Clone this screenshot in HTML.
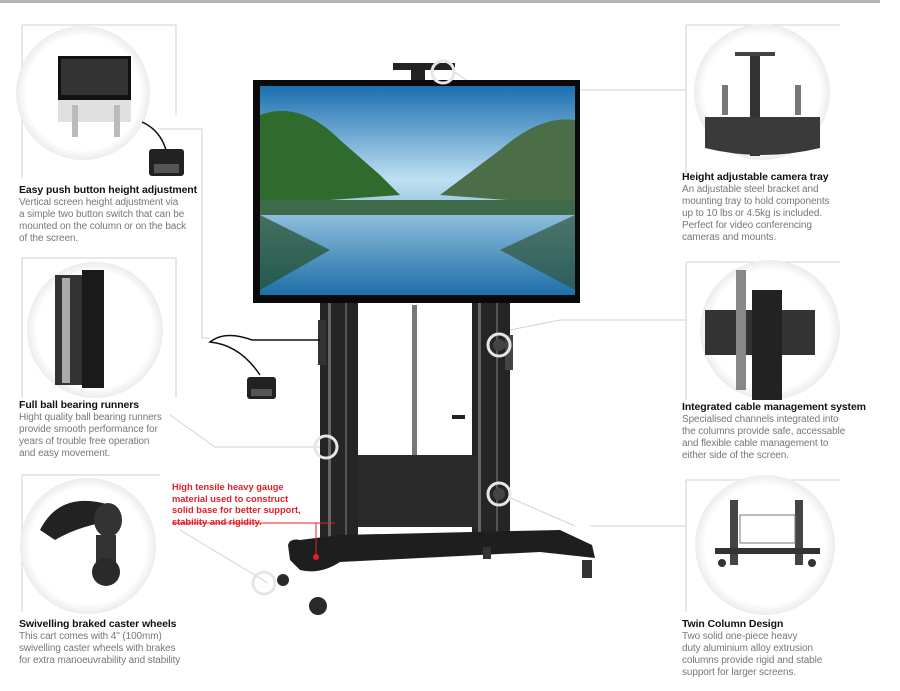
<!DOCTYPE html>
<html><head><meta charset="utf-8"><style>
body{margin:0;width:900px;height:691px;background:#fff;overflow:hidden;position:relative;font-family:"Liberation Sans",sans-serif}
.t{position:absolute;font-size:10px;line-height:12px;color:#777;letter-spacing:-0.1px}
.t b{display:block;color:#111;font-size:10.5px;margin-bottom:1px}
.r{position:absolute;left:172px;top:482px;color:#e0202a;font-weight:bold;font-size:9.3px;line-height:11.5px}
</style></head><body>
<svg width="900" height="691" style="position:absolute;left:0;top:0">
<defs>
<linearGradient id="sky" x1="0" y1="0" x2="0" y2="1"><stop offset="0" stop-color="#1a6fb0"/><stop offset="0.45" stop-color="#bfe0f2"/><stop offset="1" stop-color="#1d6fa8"/></linearGradient>
<radialGradient id="cg"><stop offset="0.85" stop-color="#fff"/><stop offset="1" stop-color="#ececec"/></radialGradient>
</defs>
<rect x="0" y="0" width="880" height="3" fill="#b5b5b5"/>
<g stroke="#d2d2d2" fill="none" stroke-width="1">
<path d="M22 25 V178 M22 25 H176 V115"/>
<path d="M158 129 H202 V338 H210"/>
<path d="M22 258 H176 V398 M22 258 V398"/>
<path d="M22 475 H160 M22 475 V612"/>
<path d="M686 25 V175 M686 25 H840 M686 90 H590"/>
<path d="M686 262 H840 M686 262 V400 M686 320 H560"/>
<path d="M686 480 H840 M686 480 V612 M686 526 H590"/>
<path d="M170 415 L215 447 H320 M455 72 L480 90 H590 M510 330 L560 320 M508 497 L575 526 M180 530 L268 583"/>
</g>
<circle cx="83" cy="93" r="67" fill="url(#cg)"/>
<circle cx="95" cy="330" r="68" fill="url(#cg)"/>
<circle cx="88" cy="546" r="68" fill="url(#cg)"/>
<circle cx="762" cy="92" r="68" fill="url(#cg)"/>
<circle cx="770" cy="330" r="70" fill="url(#cg)"/>
<circle cx="765" cy="545" r="70" fill="url(#cg)"/>
<rect x="58" y="56" width="73" height="44" fill="#111"/><rect x="61" y="59" width="67" height="36" fill="#333"/>
<rect x="58" y="100" width="73" height="22" fill="#ccc" opacity=".6"/>
<rect x="72" y="105" width="6" height="32" fill="#bbb"/><rect x="114" y="105" width="6" height="32" fill="#bbb"/>
<path d="M142 122 Q160 130 166 150" stroke="#111" stroke-width="1.5" fill="none"/>
<rect x="149" y="149" width="35" height="27" rx="3" fill="#222"/><rect x="154" y="164" width="25" height="9" fill="#555"/>
<rect x="55" y="275" width="48" height="110" fill="#333"/><rect x="62" y="278" width="8" height="105" fill="#aaa"/><rect x="82" y="270" width="22" height="118" fill="#1a1a1a"/>
<path d="M40 530 Q60 490 110 505 L118 520 Q80 525 55 540 Z" fill="#222"/>
<ellipse cx="108" cy="520" rx="14" ry="17" fill="#333"/>
<rect x="96" y="535" width="20" height="30" fill="#333"/><circle cx="106" cy="572" r="14" fill="#2a2a2a"/>
<rect x="735" y="52" width="40" height="4" fill="#444"/><rect x="750" y="56" width="10" height="100" fill="#333"/>
<rect x="722" y="85" width="6" height="30" fill="#777"/><rect x="795" y="85" width="6" height="30" fill="#777"/>
<path d="M705 117 H820 V148 Q762 162 705 148Z" fill="#3a3a3a"/>
<rect x="705" y="310" width="110" height="45" fill="#333"/><rect x="752" y="290" width="30" height="110" fill="#222"/><rect x="736" y="270" width="10" height="120" fill="#888"/>
<rect x="730" y="500" width="8" height="65" fill="#444"/><rect x="795" y="500" width="8" height="65" fill="#444"/>
<rect x="740" y="515" width="55" height="28" fill="none" stroke="#777"/><rect x="715" y="548" width="105" height="6" fill="#333"/>
<circle cx="722" cy="563" r="4" fill="#333"/><circle cx="812" cy="563" r="4" fill="#333"/>
<rect x="393" y="63" width="62" height="7" fill="#222"/><rect x="411" y="70" width="14" height="16" fill="#222"/>
<rect x="253" y="80" width="327" height="223" fill="#0a0a0a"/>
<rect x="260" y="86" width="315" height="209" fill="url(#sky)"/>
<path d="M260 115 Q300 100 340 140 L380 175 L400 195 L260 205Z" fill="#2f6b2c"/>
<path d="M440 195 L500 150 Q540 115 575 120 V205Z" fill="#4b6e48"/>
<path d="M260 200 H575 V215 H260Z" fill="#3e6a49"/>
<path d="M260 215 L330 250 L260 290Z" fill="#254f2a" opacity=".7"/>
<path d="M575 215 L500 250 L575 290Z" fill="#30553a" opacity=".7"/>
<rect x="320" y="303" width="38" height="247" fill="#252525"/><rect x="328" y="303" width="3" height="247" fill="#666"/><rect x="345" y="303" width="2" height="247" fill="#555"/>
<rect x="472" y="303" width="38" height="240" fill="#252525"/><rect x="478" y="303" width="3" height="240" fill="#666"/><rect x="496" y="303" width="2" height="240" fill="#555"/>
<rect x="412" y="305" width="5" height="160" fill="#777"/>
<rect x="452" y="415" width="13" height="4" fill="#222"/>
<rect x="358" y="455" width="120" height="72" fill="#2a2a2a"/>
<path d="M288 545 Q290 538 300 540 L340 535 L560 530 L592 545 L595 558 L540 552 L340 562 Q320 575 300 570 L290 560Z" fill="#1e1e1e"/>
<rect x="318" y="320" width="8" height="45" fill="#333"/><rect x="505" y="335" width="8" height="35" fill="#444"/>
<circle cx="283" cy="580" r="6" fill="#2a2a2a"/><circle cx="318" cy="606" r="9" fill="#2a2a2a"/>
<rect x="483" y="547" width="8" height="12" fill="#333"/><rect x="582" y="560" width="10" height="18" fill="#333"/>
<g fill="none" stroke="#e6e6e6" stroke-width="3">
<circle cx="326" cy="447" r="11"/><circle cx="499" cy="345" r="11"/><circle cx="499" cy="494" r="11"/><circle cx="264" cy="583" r="11"/><circle cx="443" cy="72" r="11"/>
</g>
<circle cx="499" cy="345" r="6" fill="#444"/><circle cx="499" cy="494" r="6" fill="#444"/>
<path d="M252 340 Q225 330 210 342 Q240 345 260 375" stroke="#111" stroke-width="1.5" fill="none"/>
<path d="M252 340 H320" stroke="#111" stroke-width="1.5"/>
<rect x="247" y="377" width="29" height="22" rx="3" fill="#222"/><rect x="251" y="389" width="21" height="7" fill="#555"/>
<path d="M172 523 H335 M316 523 V557" stroke="#e0202a" stroke-width="1" fill="none"/>
<circle cx="316" cy="557" r="3" fill="#e0202a"/>
</svg>
<div class="t" style="left:19px;top:184px"><b>Easy push button height adjustment</b>Vertical screen height adjustment via<br>a simple two button switch that can be<br>mounted on the column or on the back<br>of the screen.</div>
<div class="t" style="left:19px;top:399px"><b>Full ball bearing runners</b>Hight quality ball bearing runners<br>provide smooth performance for<br>years of trouble free operation<br>and easy movement.</div>
<div class="t" style="left:19px;top:618px"><b>Swivelling braked caster wheels</b>This cart comes with 4" (100mm)<br>swivelling caster wheels with brakes<br>for extra manoeuvrability and stability</div>
<div class="t" style="left:682px;top:171px"><b>Height adjustable camera tray</b>An adjustable steel bracket and<br>mounting tray to hold components<br>up to 10 lbs or 4.5kg is included.<br>Perfect for video conferencing<br>cameras and mounts.</div>
<div class="t" style="left:682px;top:401px"><b>Integrated cable management system</b>Specialised channels integrated into<br>the columns provide safe, accessable<br>and flexible cable management to<br>either side of the screen.</div>
<div class="t" style="left:682px;top:618px"><b>Twin Column Design</b>Two solid one-piece heavy<br>duty aluminium alloy extrusion<br>columns provide rigid and stable<br>support for larger screens.</div>
<div class="r">High tensile heavy gauge<br>material used to construct<br>solid base for better support,<br>stability and rigidity.</div>
</body></html>
